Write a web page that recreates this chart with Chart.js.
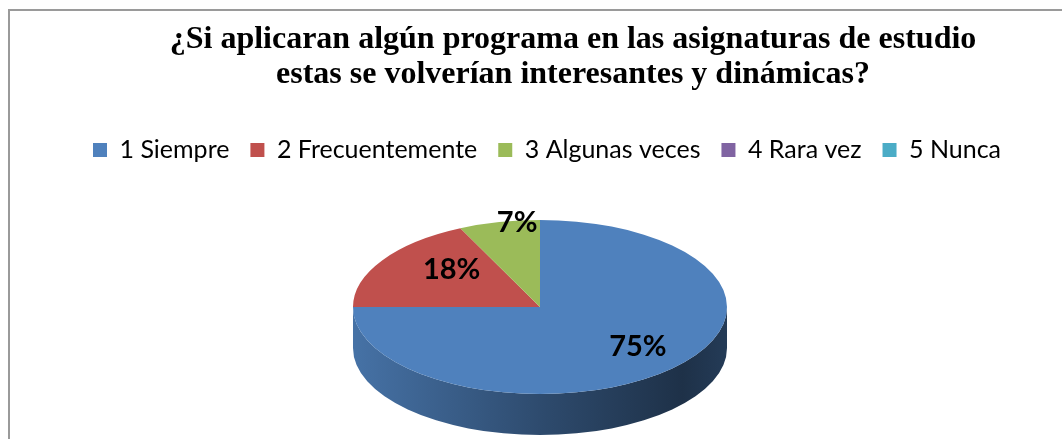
<!DOCTYPE html>
<html><head><meta charset="utf-8">
<script src="https://cdn.jsdelivr.net/npm/chart.js@4.4.1/dist/chart.umd.min.js"></script>
<style>
html,body{margin:0;padding:0;background:#fff;overflow:hidden;width:1062px;height:439px;}
#frame{position:absolute;left:8px;top:9px;width:1126px;height:470px;border-left:2px solid #9a9a9a;border-top:2px solid #9a9a9a;background:#fff;}
canvas{display:block;}
</style></head><body>
<div id="frame"><canvas id="c" width="1126" height="470"></canvas></div>
<script>
const titleLines = ['¿Si aplicaran algún programa en las asignaturas de estudio', 'estas se volverían interesantes y dinámicas?'];
const categories = ['1 Siempre', '2 Frecuentemente', '3 Algunas veces', '4 Rara vez', '5 Nunca'];
const percentages = [75, 18, 7, 0, 0];
const sliceColors = ['#4F81BD', '#C0504D', '#9BBB59', '#8064A2', '#4BACC6'];

function shade(hex, f) {
  const n = parseInt(hex.slice(1), 16);
  const r = Math.round(((n >> 16) & 255) * f), g = Math.round(((n >> 8) & 255) * f), b = Math.round((n & 255) * f);
  return 'rgb(' + r + ',' + g + ',' + b + ')';
}

const pie3d = {
  id: 'pie3d',
  beforeDatasetsDraw(chart, args, opts) {
    const meta = chart.getDatasetMeta(0);
    const arcs = meta.data;
    if (!arcs.length) return;
    const p0 = arcs[0].getProps(['x', 'y', 'outerRadius'], true);
    const cx = p0.x, cy = p0.y, R = p0.outerRadius;
    const sx = opts.rx / R, sy = opts.ry / R;
    const ctx = chart.ctx;
    ctx.save();
    ctx.translate(opts.cx, opts.cy);
    ctx.scale(sx, sy);
    ctx.translate(-cx, -cy);
    const d = opts.depth / sy;
    const colors = chart.data.datasets[0].backgroundColor;
    arcs.forEach((arc, i) => {
      const p = arc.getProps(['startAngle', 'endAngle', 'circumference'], true);
      if (!p.circumference) return;
      for (let k = -1; k <= 1; k++) {
        const lo = Math.max(p.startAngle, 2 * Math.PI * k);
        const hi = Math.min(p.endAngle, 2 * Math.PI * k + Math.PI);
        if (hi <= lo) continue;
        const g = ctx.createLinearGradient(cx - R, 0, cx + R, 0);
        g.addColorStop(0, shade(colors[i], 0.88));
        g.addColorStop(0.5, shade(colors[i], 0.58));
        g.addColorStop(0.88, shade(colors[i], 0.38));
        g.addColorStop(1, shade(colors[i], 0.46));
        ctx.beginPath();
        ctx.arc(cx, cy, R, lo, hi);
        ctx.arc(cx, cy + d, R, hi, lo, true);
        ctx.closePath();
        ctx.fillStyle = g;
        ctx.fill();
      }
    });
  },
  afterDatasetsDraw(chart, args, opts) {
    const meta = chart.getDatasetMeta(0);
    const arcs = meta.data;
    if (!arcs.length) return;
    const ctx = chart.ctx;
    ctx.restore();
    const values = chart.data.datasets[0].data;
    const total = values.reduce((a, b) => a + b, 0);
    ctx.save();
    ctx.font = 'bold 29px Lato';
    ctx.fillStyle = '#000';
    ctx.textAlign = 'center';
    ctx.textBaseline = 'middle';
    arcs.forEach((arc, i) => {
      const p = arc.getProps(['startAngle', 'endAngle', 'circumference'], true);
      if (!p.circumference) return;
      const mid = (p.startAngle + p.endAngle) / 2;
      const f = opts.labelRadius[i];
      const x = opts.cx + Math.cos(mid) * opts.rx * f[0];
      const y = opts.cy + Math.sin(mid) * opts.ry * f[1];
      ctx.fillText(Math.round(values[i] / total * 100) + '%', x, y);
    });
    ctx.restore();
  }
};

new Chart(document.getElementById('c'), {
  type: 'pie',
  data: {
    labels: categories,
    datasets: [{
      data: percentages,
      backgroundColor: sliceColors,
      borderWidth: 0,
      clip: false
    }]
  },
  options: {
    responsive: false,
    animation: false,
    events: [],
    layout: { padding: { left: 62, right: 62, top: 0, bottom: 0 } },
    plugins: {
      title: {
        display: true,
        text: titleLines,
        color: '#000',
        font: { family: 'Liberation Serif', weight: 'bold', size: 32, lineHeight: 1.07 },
        padding: { top: 12, bottom: 25 }
      },
      legend: {
        position: 'top',
        align: 'start',
        labels: {
          color: '#000',
          font: { family: 'Lato', size: 25 },
          boxWidth: 14,
          boxHeight: 14,
          padding: 21
        }
      },
      tooltip: { enabled: false },
      pie3d: { cx: 530, cy: 296, rx: 187, ry: 87, depth: 41,
               labelRadius: [[0.74, 0.65], [0.56, 0.81], [0.56, 0.99], [0.7, 0.7], [0.7, 0.7]] }
    }
  },
  plugins: [pie3d]
});
</script>
</body></html>
